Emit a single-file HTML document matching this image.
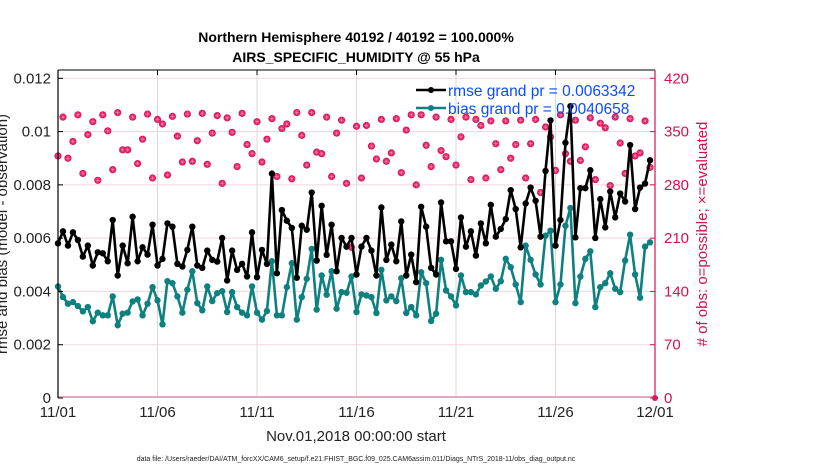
<!DOCTYPE html>
<html><head><meta charset="utf-8"><style>
body{margin:0;background:#fff;}
svg{display:block;font-family:"Liberation Sans",sans-serif;}
</style></head><body>
<svg id="chart" width="830" height="470" viewBox="0 0 830 470">
<g id="grid"></g>
<g id="series"></g>
<g id="axes"></g>
<text x="356" y="42" text-anchor="middle" font-size="14" font-weight="bold">Northern Hemisphere 40192 / 40192 = 100.000%</text>
<text x="356" y="62" text-anchor="middle" font-size="14" font-weight="bold">AIRS_SPECIFIC_HUMIDITY @ 55 hPa</text>
<text x="356" y="441" text-anchor="middle" font-size="15" fill="#222">Nov.01,2018 00:00:00 start</text>
<text x="356" y="461" text-anchor="middle" font-size="7" fill="#222">data file: /Users/raeder/DAI/ATM_forcXX/CAM6_setup/f.e21.FHIST_BGC.f09_025.CAM6assim.011/Diags_NTrS_2018-11/obs_diag_output.nc</text>
<text transform="translate(7,234) rotate(-90)" text-anchor="middle" font-size="15" fill="#222">rmse and bias (model - observation)</text>
<text transform="translate(707,234) rotate(-90)" text-anchor="middle" font-size="15" fill="#d6104f"># of obs: o=possible; ×=evaluated</text>
<g>
<line x1="416" y1="90" x2="446" y2="90" stroke="#000" stroke-width="2.5"/>
<circle cx="431" cy="90" r="3" fill="#000"/>
<text x="448" y="96" font-size="15.5" fill="#0a4cff">rmse grand pr = 0.0063342</text>
<line x1="416" y1="108" x2="446" y2="108" stroke="#0e8080" stroke-width="2.5"/>
<circle cx="431" cy="108" r="3" fill="#0e8080"/>
<text x="448" y="114" font-size="15.5" fill="#0a4cff">bias grand pr = 0.0040658</text>
</g>
</svg>
<script>
const rmse=[5.806,6.254,5.720,6.217,5.933,5.308,5.720,4.972,5.469,5.432,5.133,6.680,4.598,5.720,5.058,6.804,5.133,5.656,5.383,6.505,4.972,5.222,6.553,6.430,5.036,4.935,5.559,6.430,4.972,4.886,5.533,5.185,5.121,6.007,4.411,5.533,4.811,5.036,4.561,6.217,4.535,5.559,5.036,8.422,4.684,7.054,6.654,6.381,4.512,6.467,6.318,7.712,5.159,7.215,5.372,6.505,4.759,6.007,5.682,6.007,4.636,5.682,6.007,5.533,4.598,7.151,5.185,5.757,5.133,6.628,4.598,5.383,4.348,7.178,6.430,4.886,4.636,7.338,5.880,5.880,4.849,6.778,5.682,6.254,5.346,6.553,5.806,7.252,6.056,6.344,6.718,7.802,7.092,5.656,7.301,7.899,7.402,6.056,8.523,10.419,5.720,6.680,9.581,10.953,6.030,7.877,7.877,8.550,6.007,7.465,6.404,7.750,6.778,7.675,7.376,9.495,7.092,7.899,8.049,8.923];
const bias=[4.187,3.787,3.540,3.600,3.450,3.252,3.413,2.879,3.204,3.103,3.103,3.813,2.729,3.166,3.204,3.626,3.701,3.103,3.540,4.161,3.664,2.766,4.385,4.310,3.813,3.204,4.064,4.759,3.563,3.290,4.187,3.637,3.936,4.011,3.226,3.974,3.413,3.204,3.103,4.187,3.204,2.942,3.264,5.133,3.103,3.103,4.161,5.058,2.942,3.787,4.475,5.596,3.316,4.598,3.877,4.759,3.353,3.974,3.951,4.561,3.226,3.888,3.850,3.787,3.189,4.811,3.664,3.813,3.637,4.497,3.189,3.413,3.103,4.721,4.310,2.890,3.166,5.185,4.037,3.813,3.477,4.598,3.974,3.974,3.888,4.224,4.374,4.561,4.101,4.385,5.222,4.908,4.262,3.600,5.720,5.185,4.636,4.262,6.093,6.280,3.600,4.262,6.467,7.129,3.563,4.561,5.222,5.507,3.413,4.161,4.310,4.684,4.101,3.974,5.159,6.131,4.636,3.764,5.682,5.843];
const nobs=[318,369,315,337,372,295,346,363,286,372,351,300,375,326,326,369,308,340,373,289,366,360,293,370,344,310,373,311,338,374,307,348,371,282,368,349,304,374,333,321,363,310,340,367,291,354,360,288,375,345,306,375,323,321,369,291,348,365,282,198,357,289,358,331,314,366,311,322,367,296,352,372,280,372,332,304,369,325,317,366,306,343,369,287,366,358,289,364,334,300,364,315,333,365,289,334,366,270,356,343,299,372,321,311,365,312,330,368,287,361,355,279,369,335,295,367,318,322,364,303];
const xTickLabels=["11/01","11/06","11/11","11/16","11/21","11/26","12/01"];
const xTickDays=[0,5,10,15,20,25,30];
const yTickLabels=["0","0.002","0.004","0.006","0.008","0.01","0.012"];
const yTickVals=[0,0.002,0.004,0.006,0.008,0.010,0.012];
const y2TickVals=[0,70,140,210,280,350,420];
const stepDays=0.25;

const NS="http://www.w3.org/2000/svg";
const L=58,R=655,T=70,B=398,Y0=78.3;
const xs=d=>L+(R-L)*d/30;
const ys=v=>B-(B-Y0)*v/0.012;
const y2s=n=>B-(B-Y0)*n/420;
function mk(tag,attrs,parent){const e=document.createElementNS(NS,tag);for(const k in attrs)e.setAttribute(k,attrs[k]);parent.appendChild(e);return e;}
const grid=document.getElementById('grid'),ser=document.getElementById('series'),ax=document.getElementById('axes');
xTickDays.forEach((d,i)=>{
  if(i>0&&i<xTickDays.length-1){const g=mk('line',{x1:xs(d),x2:xs(d),y1:T,y2:B,stroke:'#d8d8d8','stroke-width':1},grid);
  
  }
  const t=mk('text',{x:xs(d),y:417,'text-anchor':'middle','font-size':15,fill:'#222'},ax);t.textContent=xTickLabels[i];
  
  
  mk('line',{x1:xs(d),x2:xs(d),y1:T,y2:T+5,stroke:'#000'},ax);
});
yTickVals.forEach((v,i)=>{
  if(i>0){const g=mk('line',{x1:L,x2:R,y1:ys(v),y2:ys(v),stroke:'#f6d3de','stroke-width':1},grid);
  
  }
  const t=mk('text',{x:51,y:ys(v)+5,'text-anchor':'end','font-size':15,fill:'#222'},ax);t.textContent=yTickLabels[i];
  
  
  mk('line',{x1:L,x2:L+5,y1:ys(v),y2:ys(v),stroke:'#000'},ax);
});
y2TickVals.forEach(n=>{
  const t=mk('text',{x:664,y:y2s(n)+5,'font-size':15,fill:'#d6104f'},ax);t.textContent=String(n);
  
  
  mk('line',{x1:R-5,x2:R,y1:y2s(n),y2:y2s(n),stroke:'#d6104f'},ax);
});
const zl=mk('line',{x1:L,x2:R,y1:B-1,y2:B-1,stroke:'#e8a8bc','stroke-width':2},ser);


nobs.forEach((n,i)=>{
  const x=xs(i*stepDays),y=y2s(n);
  const g=mk('g',{},ser);
  
  
  mk('circle',{cx:x,cy:y,r:3.6,fill:'#de1860'},g);
  mk('path',{d:`M${x-2.4} ${y}H${x+2.4}M${x} ${y-2.4}V${y+2.4}M${x-1.7} ${y-1.7}L${x+1.7} ${y+1.7}M${x-1.7} ${y+1.7}L${x+1.7} ${y-1.7}`,stroke:'#f7a8c4','stroke-width':0.4},g);
});
function series(vals,color,name){
  const pts=vals.map((v,i)=>xs(i*stepDays).toFixed(1)+','+ys(v/1000).toFixed(1)).join(' ');
  const pl=mk('polyline',{points:pts,fill:'none',stroke:color,'stroke-width':2.6,'stroke-linejoin':'round'},ser);
  
  
  vals.forEach((v,i)=>{const c=mk('circle',{cx:xs(i*stepDays),cy:ys(v/1000),r:3.2,fill:color},ser);
  
  });
}
series(bias,'#0e8080','bias');
series(rmse,'#000000','rmse');
mk('line',{x1:L,x2:R,y1:T,y2:T,stroke:'#000','stroke-width':1},ax);
mk('line',{x1:L,x2:L,y1:T,y2:B,stroke:'#000','stroke-width':1.2},ax);
mk('line',{x1:R,x2:R,y1:T,y2:B,stroke:'#d6104f','stroke-width':1.2},ax);
const ed=mk('circle',{cx:R,cy:B,r:3,fill:'#de1860'},ax);


</script>
</body></html>
